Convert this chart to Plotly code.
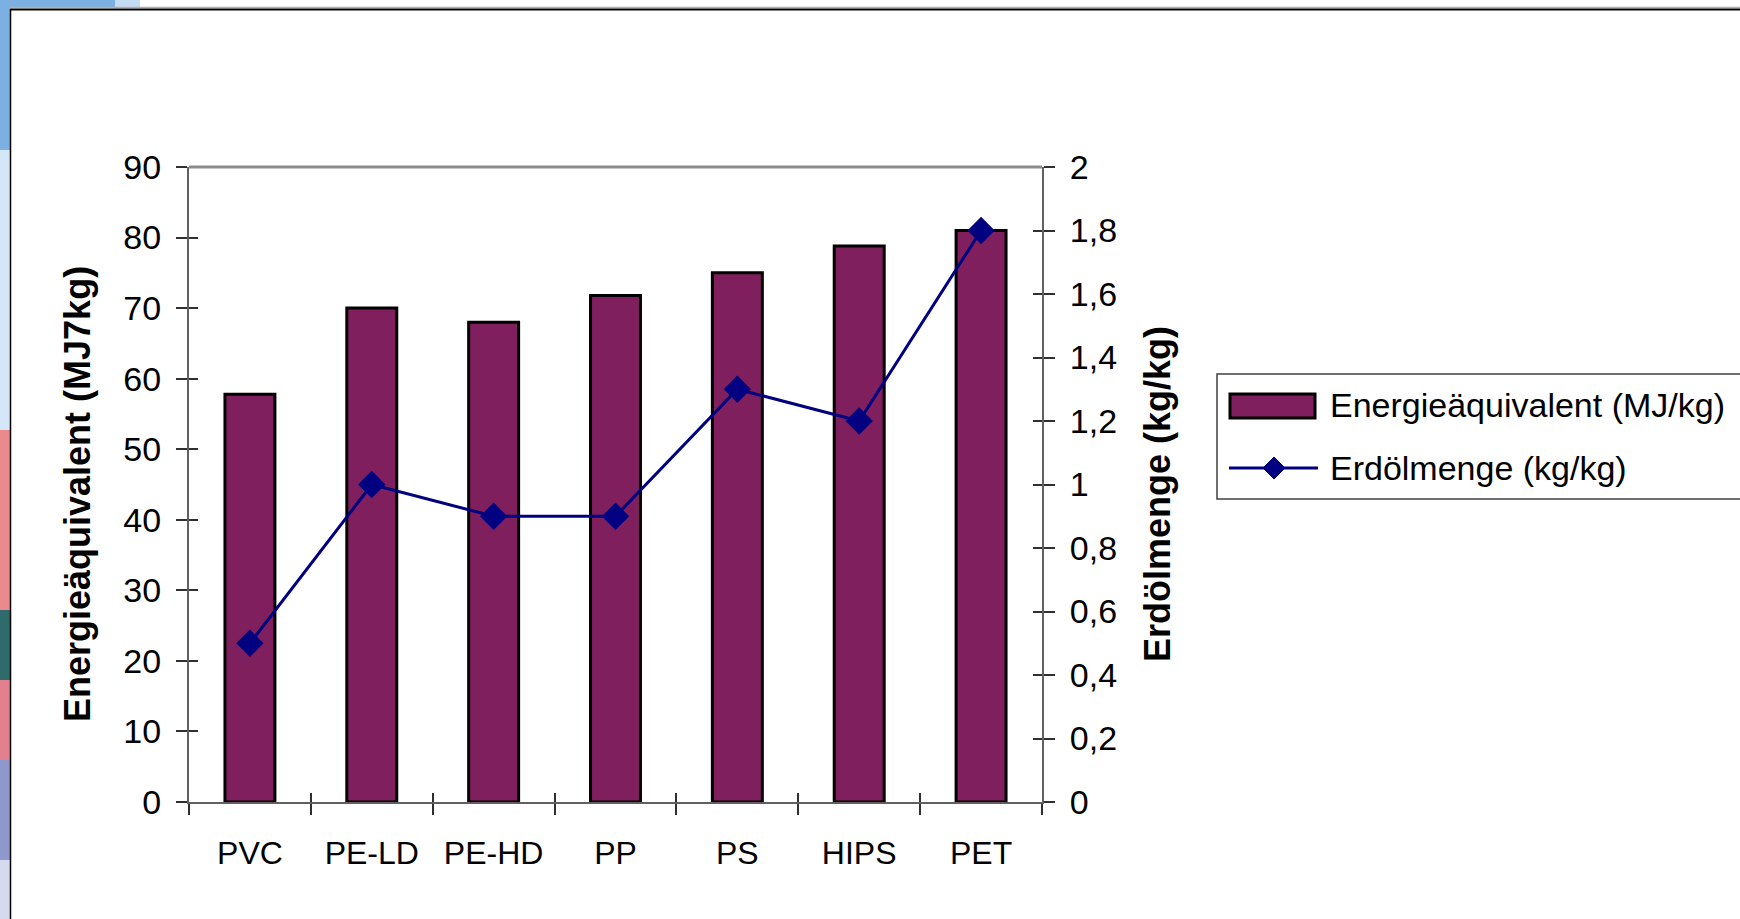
import plotly.graph_objects as go

# ---------------- data ----------------
categories = ["PVC", "PE-LD", "PE-HD", "PP", "PS", "HIPS", "PET"]
energy_mj = [57.8, 70, 68, 71.8, 75, 78.8, 81]
oil_kg = [0.5, 1.0, 0.9, 0.9, 1.3, 1.2, 1.8]

left_ticks = [0, 10, 20, 30, 40, 50, 60, 70, 80, 90]
left_labels = ["0", "10", "20", "30", "40", "50", "60", "70", "80", "90"]
right_ticks = [0, 0.2, 0.4, 0.6, 0.8, 1.0, 1.2, 1.4, 1.6, 1.8, 2.0]
right_labels = ["0", "0,2", "0,4", "0,6", "0,8", "1", "1,2", "1,4", "1,6", "1,8", "2"]
boundary_ticks = [-0.5, 0.5, 1.5, 2.5, 3.5, 4.5, 5.5, 6.5]

bar_name = "Energieäquivalent (MJ/kg)"
line_name = "Erdölmenge (kg/kg)"
left_title = "Energieäquivalent (MJ7kg)"
right_title = "Erdölmenge (kg/kg)"

# ---------------- style ----------------
W, H = 1740, 919
PL, PR, PT, PB = 189, 1042, 167, 802   # plot area in pixels
BAR = "#7f1f5d"
NAVY = "#000080"
AXIS = "#606060"
TICK = "#303030"
FONT = "Liberation Sans, Arial, sans-serif"


def fx(px):
    return (px - PL) / (PR - PL)


def fy(py):
    return (PB - py) / (PB - PT)


fig = go.Figure()
fig.add_trace(go.Bar(
    x=categories, y=energy_mj, name=bar_name, width=0.41,
    marker=dict(color=BAR, line=dict(color="black", width=3)),
    xaxis="x", yaxis="y", showlegend=False))
fig.add_trace(go.Scatter(
    x=categories, y=oil_kg, name=line_name, mode="lines+markers",
    line=dict(color=NAVY, width=3),
    marker=dict(symbol="diamond", size=21, color=NAVY),
    xaxis="x", yaxis="y2", showlegend=False))
# helper (empty) traces so that the inside-tick overlay axes are drawn
fig.add_trace(go.Scatter(x=[None], y=[None], xaxis="x2", yaxis="y3",
                         showlegend=False, hoverinfo="skip"))
fig.add_trace(go.Scatter(x=[None], y=[None], xaxis="x2", yaxis="y4",
                         showlegend=False, hoverinfo="skip"))

common = dict(showgrid=False, zeroline=False, tickcolor=TICK, tickwidth=1.5)

fig.update_layout(
    width=W, height=H, autosize=False,
    margin=dict(l=PL, r=W - PR, t=PT, b=H - PB, pad=0),
    paper_bgcolor="white", plot_bgcolor="white",
    font=dict(family=FONT, color="black"),
    bargap=0.59,
    xaxis=dict(type="category", categoryorder="array", categoryarray=categories,
               range=[-0.5, 6.5], tickson="boundaries", ticks="outside", ticklen=11,
               showline=True, linecolor=AXIS, linewidth=2,
               tickfont=dict(size=32, family=FONT), ticklabelstandoff=22, **common),
    yaxis=dict(range=[0, 90], tickmode="array", tickvals=left_ticks, ticktext=left_labels,
               ticks="outside", ticklen=11, showline=True, linecolor=AXIS, linewidth=2,
               tickfont=dict(size=34, family=FONT), ticklabelstandoff=8, **common),
    yaxis2=dict(range=[0, 2], overlaying="y", side="right", anchor="x",
                tickmode="array", tickvals=right_ticks, ticktext=right_labels,
                ticks="outside", ticklen=11, showline=True, linecolor=AXIS, linewidth=2,
                tickfont=dict(size=34, family=FONT), ticklabelstandoff=8, **common),
    xaxis2=dict(overlaying="x", anchor="y", side="bottom", range=[-0.5, 6.5],
                tickmode="array", tickvals=boundary_ticks, ticks="inside", ticklen=9,
                showticklabels=False, showline=False, **common),
    yaxis3=dict(overlaying="y", anchor="x", side="left", range=[0, 90],
                tickmode="array", tickvals=left_ticks, ticks="inside", ticklen=9,
                showticklabels=False, showline=False, **common),
    yaxis4=dict(overlaying="y", anchor="x", side="right", range=[0, 2],
                tickmode="array", tickvals=right_ticks, ticks="inside", ticklen=9,
                showticklabels=False, showline=False, **common),
)

shapes = []


def rect(x0, y0, x1, y1, fill, line_color=None, lw=0, layer="below"):
    shapes.append(dict(type="rect", xref="paper", yref="paper",
                       x0=fx(x0), x1=fx(x1), y0=fy(y0), y1=fy(y1),
                       fillcolor=fill, layer=layer,
                       line=dict(color=line_color or fill, width=lw)))


def hline(x0, x1, y, color, lw, layer="above"):
    shapes.append(dict(type="line", xref="paper", yref="paper",
                       x0=fx(x0), x1=fx(x1), y0=fy(y), y1=fy(y),
                       line=dict(color=color, width=lw), layer=layer))


def vline(x, y0, y1, color, lw, layer="above"):
    shapes.append(dict(type="line", xref="paper", yref="paper",
                       x0=fx(x), x1=fx(x), y0=fy(y0), y1=fy(y1),
                       line=dict(color=color, width=lw), layer=layer))


# slide background remnants on the left / top edge
rect(0, 0, 115, 8, "#7cb0e2")
rect(115, 0, 140, 8, "#c4ddf3")
rect(0, 0, 10, 150, "#7cb0e2")
rect(0, 150, 10, 430, "#d4e6f7")
rect(0, 430, 10, 610, "#ea8a8c")
rect(0, 610, 10, 680, "#2f6b6b")
rect(0, 680, 10, 760, "#e2808e")
rect(0, 760, 10, 860, "#8f98cc")
rect(0, 860, 10, 919, "#d6daee")

# outer chart frame
hline(10, 1745, 7.5, "#b0b0b0", 1.5)
hline(10, 1745, 9.5, "black", 2)
vline(10.5, 9, 925, "black", 1.5)

# plot area top border
hline(PL, PR, PT, "#8c8c8c", 3)

# custom legend
rect(1217, 374, 1760, 499, "white", "#404040", 1.5, layer="above")
rect(1230, 394, 1315, 418, BAR, "black", 3, layer="above")
hline(1229, 1318, 468, NAVY, 3)
shapes.append(dict(type="path", xref="paper", yref="paper", layer="above",
                   path="M {a},{b} L {c},{d} L {a},{e} L {f},{d} Z".format(
                       a=fx(1274), b=fy(457), c=fx(1285), d=fy(468), e=fy(479), f=fx(1263)),
                   fillcolor=NAVY, line=dict(color=NAVY, width=1)))

fig.update_layout(shapes=shapes)

annotations = [
    dict(text=bar_name, x=fx(1328), y=fy(405), xanchor="left", yanchor="middle",
         font=dict(size=34, family=FONT)),
    dict(text=line_name, x=fx(1328), y=fy(468), xanchor="left", yanchor="middle",
         font=dict(size=34, family=FONT)),
    dict(text="<b>" + left_title + "</b>", x=fx(77), y=fy(494), textangle=-90,
         xanchor="center", yanchor="middle", font=dict(size=36, family=FONT)),
    dict(text="<b>" + right_title + "</b>", x=fx(1157), y=fy(494), textangle=-90,
         xanchor="center", yanchor="middle", font=dict(size=36, family=FONT)),
]
for a in annotations:
    a.update(xref="paper", yref="paper", showarrow=False)
fig.update_layout(annotations=annotations)

fig.write_html("out.html", config={"displayModeBar": False},
               post_script="document.body.style.margin='0';document.body.style.overflow='hidden';")
